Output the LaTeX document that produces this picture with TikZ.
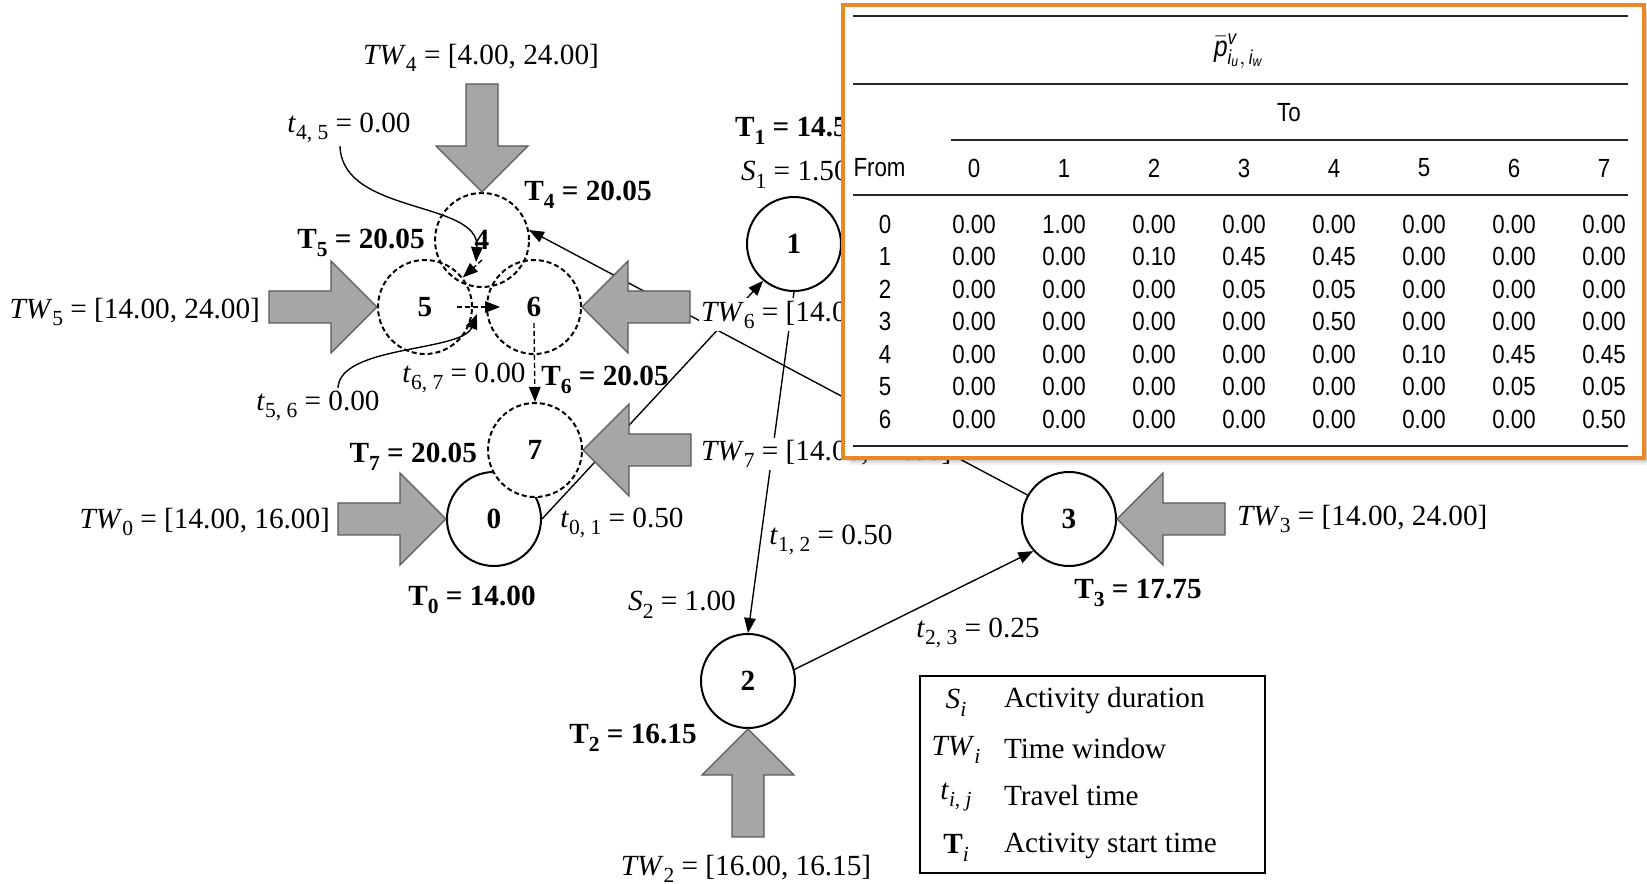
\documentclass[tikz,border=0pt]{standalone}
\usepackage{amsmath}
\usepackage{fontspec}
\setmainfont{Liberation Serif}
\newfontfamily\tabfont[FakeStretch=0.85]{Liberation Sans}
\usetikzlibrary{arrows.meta,calc}
\definecolor{arrowgray}{RGB}{166,166,166}
\definecolor{orangeb}{RGB}{236,135,40}
\newcommand\sbs[1]{\raisebox{-3pt}{\fontsize{8.6}{10}\selectfont #1}}
\newcommand\TWsub[1]{\textit{TW}\sbs{#1}}
\newcommand\tsub[1]{\textit{t}\sbs{#1}}
\newcommand\BigArr[2]{\draw[big, shift={#1}, rotate=#2] (0,0) -- (-46,46) -- (-46,16) -- (-108,16) -- (-108,-16) -- (-46,-16) -- (-46,-46) -- cycle;}
\tikzset{
  lbl/.style={font=\fontsize{11.7}{14}\selectfont, inner sep=1pt},
  blbl/.style={font=\fontsize{11.7}{14}\selectfont\bfseries, inner sep=1pt},
  act/.style={circle, draw, line width=0.8pt, minimum size=37.6pt, inner sep=0pt, font=\fontsize{11.7}{14}\selectfont\bfseries, fill=white},
  dact/.style={act, fill=none, dash pattern=on 2pt off 1.2pt},
  conn/.style={line width=0.55pt, -{Triangle[length=6pt,width=4.6pt]}},
  dconn/.style={conn, dash pattern=on 2pt off 1.2pt},
  big/.style={fill=arrowgray, draw=black!65, line width=0.5pt},
  tcell/.style={font=\fontsize{10.5}{12}\selectfont\tabfont, inner sep=0pt},
  trule/.style={line width=0.6pt, black!85},
}
\begin{document}
\begin{tikzpicture}[x=0.4pt,y=-0.4pt]
\useasboundingbox (0,0) rectangle (1647,884);
% activity nodes
\node[act] (n0) at (494,519) {0};
\node[act] (n1) at (794,244) {1};
\node[act] (n2) at (748,681) {2};
\node[act] (n3) at (1069,519) {3};
\node[dact] (n4) at (482,240) {4};
\node[dact] (n5) at (425,307) {5};
\node[dact] (n6) at (534,307) {6};
\node[dact, fill=white] (n7) at (535,450) {7};
% connectors
\draw[conn] (n0.east) -- (n1.230);
\draw[conn] (n1.south) -- (n2.north);
\draw[conn] (n2.14) -- (n3.222);
\draw[conn] (n3.150) -- (n4.12);
\draw[dconn] ([yshift=-8pt]n4.center) -- (n5.38);
\draw[dconn] ([xshift=12.8pt]n5.center) -- ([xshift=-13.6pt]n6.center);
\draw[dconn] ([yshift=-6.4pt]n6.center) -- (n7.north);
% big time-window arrows
\BigArr{(n4.north)}{-90}
\BigArr{(n5.west)}{0}
\BigArr{(n6.east)}{180}
\BigArr{(n7.east)}{180}
\BigArr{(n0.west)}{0}
\BigArr{(n2.south)}{90}
\BigArr{(n3.east)}{180}
% labels
\node[lbl] (tw4) at (481,58) {\TWsub{4} = [4.00, 24.00]};
\node[lbl] (t45) at (349,128) {\tsub{4, 5} = 0.00};
\node[blbl] (T4) at (588,195) {T\sbs{4} = 20.05};
\node[blbl] (T5) at (361,243) {T\sbs{5} = 20.05};
\node[lbl, anchor=east] (tw5) at (263,312) {\TWsub{5} = [14.00, 24.00]};
\node[blbl] (T6) at (605,380) {T\sbs{6} = 20.05};
\node[lbl] (t67) at (464,378) {\tsub{6, 7} = 0.00};
\node[lbl] (t56) at (318,406) {\tsub{5, 6} = 0.00};
\node[blbl, anchor=east] (T7) at (480,457) {T\sbs{7} = 20.05};
\node[lbl, anchor=east] (tw0) at (333,522) {\TWsub{0} = [14.00, 16.00]};
\node[blbl] (T0) at (472,600) {T\sbs{0} = 14.00};
\node[lbl] (t01) at (622,523) {\tsub{0, 1} = 0.50};
\node[blbl, anchor=west] (T1) at (732,131) {T\sbs{1} = 14.50};
\node[lbl, anchor=west] (S1) at (738,175) {\textit{S}\sbs{1} = 1.50};
\node[lbl, anchor=west, fill=white] (tw6) at (698,315) {\TWsub{6} = [14.00, 24.00]};
\node[lbl, anchor=west, fill=white] (tw7) at (698,454) {\TWsub{7} = [14.00, 24.00]};
\node[lbl] (t12) at (831,540) {\tsub{1, 2} = 0.50};
\node[lbl] (S2) at (682,605) {\textit{S}\sbs{2} = 1.00};
\node[blbl] (T2) at (633,738) {T\sbs{2} = 16.15};
\node[lbl, inner sep=0pt] (tw2) at (746,869) {\TWsub{2} = [16.00, 16.15]};
\node[lbl] (t23) at (978,633) {\tsub{2, 3} = 0.25};
\node[lbl, anchor=west] (tw3) at (1234,519) {\TWsub{3} = [14.00, 24.00]};
\node[blbl] (T3) at (1138,593) {T\sbs{3} = 17.75};
% pointers from travel-time labels
\coordinate (p45) at (476,262);
\coordinate (p56) at (477,314);
\draw[conn] ([xshift=-3.6pt]t45.south) .. controls (342,215) and (480,200) .. (p45);
\draw[conn] ([xshift=8pt]t56.north) .. controls (340,345) and (462,352) .. (p56);
% table with shadow
\foreach \o/\op in {7/0.05,5/0.07,3/0.09}
  \fill[black, opacity=\op] (843+\o,5+\o) rectangle (1644+\o,458+\o);
\draw[orangeb, line width=1.3pt, fill=white] (843,5) rectangle (1644,458);
\draw[trule] (853,16) -- (1628,16);
\draw[trule] (853,84) -- (1628,84);
\draw[trule] (951,140) -- (1628,140);
\draw[trule] (853,195) -- (1628,195);
\draw[trule] (853,446) -- (1628,446);
\node[tcell, font=\fontsize{11.5}{13}\selectfont\tabfont] (phead) at (1239,51) {$\bar{\textit{p}}^{\textit{v}}_{\textit{i}_{\textit{u}},\,\textit{i}_{\textit{w}}}$};
\node[tcell] (tohead) at (1289,113) {To};
\node[tcell, anchor=west] (fromhead) at (853,168) {From};
\foreach \c in {0,...,7}
  \node[tcell] (h\c) at ({974+90*\c},168) {\c};
\foreach \r/\vals in {
  0/{0.00,1.00,0.00,0.00,0.00,0.00,0.00,0.00},
  1/{0.00,0.00,0.10,0.45,0.45,0.00,0.00,0.00},
  2/{0.00,0.00,0.00,0.05,0.05,0.00,0.00,0.00},
  3/{0.00,0.00,0.00,0.00,0.50,0.00,0.00,0.00},
  4/{0.00,0.00,0.00,0.00,0.00,0.10,0.45,0.45},
  5/{0.00,0.00,0.00,0.00,0.00,0.00,0.05,0.05},
  6/{0.00,0.00,0.00,0.00,0.00,0.00,0.00,0.50}}{
  \node[tcell] (r\r) at (885,{224+32.5*\r}) {\r};
  \foreach \v [count=\c from 0] in \vals
    \node[tcell] (c-\r-\c) at ({974+90*\c},{224+32.5*\r}) {\v};
}
% legend
\draw[line width=0.7pt] (920,676) rectangle (1265,873);
\node[lbl] (ls) at (956,703) {\textit{S}\sbs{\textit{i}}};
\node[lbl] (ltw) at (956,750) {\textit{TW}\sbs{\textit{i}}};
\node[lbl] (lt) at (956,797) {\textit{t}\sbs{\textit{i}, \textit{j}}};
\node[lbl] (lT) at (956,848) {\textbf{T}\sbs{\textit{i}}};
\node[lbl, anchor=west] (lsd) at (1001,701) {Activity duration};
\node[lbl, anchor=west] (ltwd) at (1001,748) {Time window};
\node[lbl, anchor=west] (ltd) at (1001,795) {Travel time};
\node[lbl, anchor=west] (lTd) at (1001,846) {Activity start time};
\end{tikzpicture}
\end{document}
